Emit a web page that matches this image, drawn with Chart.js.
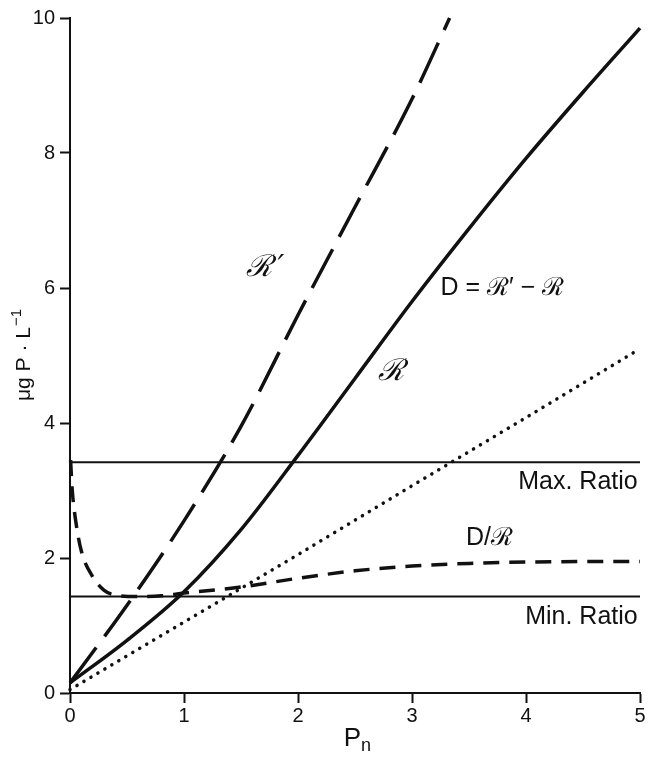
<!DOCTYPE html>
<html>
<head>
<meta charset="utf-8">
<script src="https://cdn.jsdelivr.net/npm/chart.js@4"></script>
<style>
  html, body { margin: 0; padding: 0; background: #fff; }
  #wrap { width: 656px; height: 757px; }
</style>
</head>
<body>
<div id="wrap"><canvas id="ratioChart" width="656" height="757"></canvas></div>
<script>
// values (x = Pn, y = ug P / L)
const rPrimeX = [0, 0.5, 1, 1.5, 2, 2.5, 3, 3.33];
const rPrimeY = [0.15, 1.3, 2.55, 3.95, 5.6, 7.2, 8.8, 10];

const diffX = [0, 0.5, 1, 1.5, 2, 2.5, 3, 3.5, 4, 4.5, 5];
const diffY = [0.15, 0.78, 1.5, 2.42, 3.52, 4.66, 5.8, 6.88, 7.92, 8.9, 9.85];

const rX = [0, 1, 2, 3, 4, 5];
const rY = [0.05, 1.05, 2.05, 3.07, 4.08, 5.1];

const ratioX = [0.005, 0.02, 0.05, 0.1, 0.2, 0.3, 0.4, 0.6, 0.8, 1, 1.5, 2, 2.5, 3, 3.5, 4, 5];
const ratioY = [3.45, 3.0, 2.55, 2.1, 1.72, 1.52, 1.45, 1.43, 1.44, 1.48, 1.57, 1.70, 1.81, 1.88, 1.92, 1.94, 1.95];

const maxRatio = 3.42;
const minRatio = 1.43;
const limitX = [0, 5];

const xTicks = [0, 1, 2, 3, 4, 5];
const yTicks = [0, 2, 4, 6, 8, 10];

// text labels placed at data positions
const notes = [
    { text: 'ℛ\u2009′', x: 1.71, y: 6.3, align: 'center', font: 'italic 30px "DejaVu Serif"' },
    { text: 'D = ℛ′ − ℛ', x: 3.25, y: 6.0, align: 'left', font: '25px "Liberation Sans"' },
    { text: 'ℛ', x: 2.82, y: 4.75, align: 'center', font: 'italic 30px "DejaVu Serif"' },
    { text: 'Max. Ratio', x: 4.98, y: 3.12, align: 'right', font: '25px "Liberation Sans"' },
    { text: 'D/ℛ', x: 3.68, y: 2.3, align: 'center', font: '25px "Liberation Sans"' },
    { text: 'Min. Ratio', x: 4.98, y: 1.13, align: 'right', font: '25px "Liberation Sans"' },
];

const toPoints = (xs, ys) => xs.map((x, i) => ({ x: x, y: ys[i] }));

const notePlugin = {
    id: 'notes',
    afterDatasetsDraw(chart) {
        const ctx = chart.ctx;
        const xs = chart.scales.x, ys = chart.scales.y;
        ctx.save();
        ctx.fillStyle = '#111';
        ctx.textBaseline = 'middle';
        notes.forEach(n => {
            ctx.font = n.font;
            ctx.textAlign = n.align;
            ctx.fillText(n.text, xs.getPixelForValue(n.x), ys.getPixelForValue(n.y));
        });

        // axis titles
        const area = chart.chartArea;
        const cx = (area.left + area.right) / 2;
        ctx.font = '26px "Liberation Sans"';
        ctx.textAlign = 'right';
        ctx.fillText('P', cx + 6, 739);
        ctx.font = '18px "Liberation Sans"';
        ctx.textAlign = 'left';
        ctx.fillText('n', cx + 6, 746);

        ctx.translate(24, (area.top + area.bottom) / 2);
        ctx.rotate(-Math.PI / 2);
        ctx.font = '21px "Liberation Sans"';
        const main = 'μg P · L';
        const w1 = ctx.measureText(main).width;
        ctx.font = '15px "Liberation Sans"';
        const w2 = ctx.measureText('−1').width;
        let start = -(w1 + w2) / 2;
        ctx.textAlign = 'left';
        ctx.font = '21px "Liberation Sans"';
        ctx.fillText(main, start, 0);
        ctx.font = '15px "Liberation Sans"';
        ctx.fillText('−1', start + w1 + 1, -7);
        ctx.restore();
    }
};

const ctx = document.getElementById('ratioChart').getContext('2d');

const ratioChart = new Chart(ctx, {
    type: 'line',
    data: {
        datasets: [
            {
                label: "R'",
                data: toPoints(rPrimeX, rPrimeY),
                borderColor: '#111',
                borderWidth: 3.5,
                borderDash: [44, 14],
                cubicInterpolationMode: 'monotone',
            },
            {
                label: 'D',
                data: toPoints(diffX, diffY),
                borderColor: '#111',
                borderWidth: 3.5,
                cubicInterpolationMode: 'monotone',
            },
            {
                label: 'R',
                data: toPoints(rX, rY),
                borderColor: '#111',
                borderWidth: 3.5,
                borderDash: [0.1, 8],
                borderCapStyle: 'round',
            },
            {
                label: 'D/R',
                data: toPoints(ratioX, ratioY),
                borderColor: '#111',
                borderWidth: 3.5,
                borderDash: [16, 10],
                cubicInterpolationMode: 'monotone',
            },
            {
                label: 'Max. Ratio',
                data: toPoints(limitX, [maxRatio, maxRatio]),
                borderColor: '#111',
                borderWidth: 2,
            },
            {
                label: 'Min. Ratio',
                data: toPoints(limitX, [minRatio, minRatio]),
                borderColor: '#111',
                borderWidth: 2,
            },
        ],
    },
    options: {
        responsive: false,
        animation: false,
        clip: false,
        elements: { point: { radius: 0 } },
        layout: { padding: { left: 0, right: 16, top: 18, bottom: 0 } },
        plugins: {
            legend: { display: false },
            tooltip: { enabled: false },
        },
        scales: {
            x: {
                type: 'linear',
                min: 0,
                max: 5,
                afterBuildTicks: s => { s.ticks = xTicks.map(v => ({ value: v })); },
                afterFit: s => { s.height = 64; },
                border: { display: true, color: '#111', width: 2 },
                grid: { drawOnChartArea: false, drawTicks: true, tickLength: 10, tickColor: '#111', tickWidth: 2 },
                ticks: { color: '#111', font: { family: 'Liberation Sans', size: 20 }, padding: 1, maxRotation: 0 },
            },
            y: {
                type: 'linear',
                min: 0,
                max: 10,
                afterBuildTicks: s => { s.ticks = yTicks.map(v => ({ value: v })); },
                afterFit: s => { s.width = 70; },
                border: { display: true, color: '#111', width: 2 },
                grid: { drawOnChartArea: false, drawTicks: true, tickLength: 10, tickColor: '#111', tickWidth: 2 },
                ticks: { color: '#111', font: { family: 'Liberation Sans', size: 20 }, padding: 5 },
            },
        },
    },
    plugins: [notePlugin],
});
</script>
</body>
</html>
